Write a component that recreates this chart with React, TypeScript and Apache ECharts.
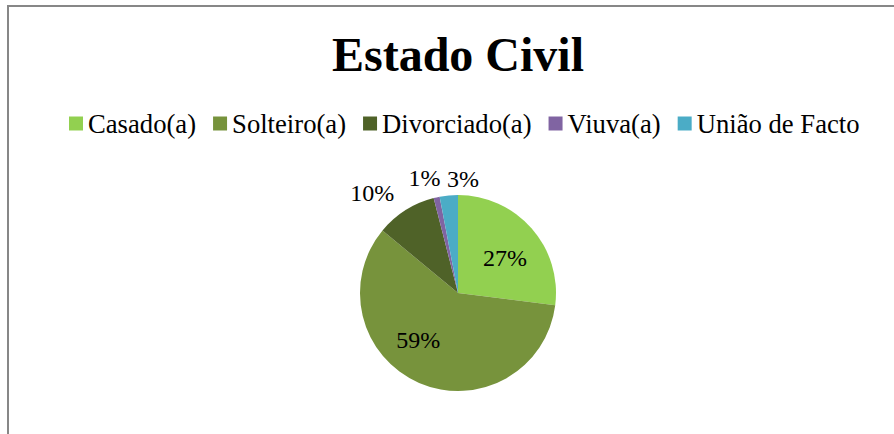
import React, { useEffect, useRef } from "react";
import * as echarts from "echarts";

const titleText = "Estado Civil";
const categories = ["Casado(a)", "Solteiro(a)", "Divorciado(a)", "Viuva(a)", "União de Facto"];
const values = [27, 59, 10, 1, 3];
const colors = ["#92D050", "#77933C", "#4F6228", "#8064A2", "#4BACC6"];

const FONT = "Liberation Serif, Times New Roman, serif";

export default function App() {
  const ref = useRef<HTMLDivElement>(null);
  useEffect(() => {
    if (!ref.current) return;
    const chart = echarts.init(ref.current, undefined, { renderer: "svg" });
    const insideSet = [0, 1];
    const nudges: Record<number, [number, number]> = {
      0: [8, -1],
      1: [-19, -1],
      2: [-1, -1],
      3: [8, -1],
      4: [32, 2],
    };
    chart.setOption({
      animation: false,
      backgroundColor: "#ffffff",
      title: {
        text: titleText,
        left: 453,
        textAlign: "center",
        top: 25,
        textStyle: { fontFamily: FONT, fontSize: 48, fontWeight: "bold", color: "#000" },
      },
      legend: {
        data: categories,
        left: 64,
        top: 105,
        icon: "rect",
        itemWidth: 14,
        itemHeight: 14,
        itemGap: 17,
        textStyle: { fontFamily: FONT, fontSize: 26.67, color: "#000" },
      },
      graphic: [
        {
          type: "rect",
          shape: { x: 8, y: 6, width: 1000, height: 1000 },
          style: { fill: "none", stroke: "#878787", lineWidth: 2 },
          silent: true,
        },
      ],
      series: [
        {
          type: "pie",
          center: [458, 293],
          radius: 98,
          startAngle: 90,
          clockwise: true,
          avoidLabelOverlap: false,
          percentPrecision: 0,
          labelLine: { show: false, length: 19, length2: 0 },
          label: {
            show: true,
            formatter: "{d}%",
            fontFamily: FONT,
            fontSize: 24,
            color: "#000",
            distanceToLabelLine: 0,
          },
          labelLayout: (p: any) => {
            const n = nudges[p.dataIndex] || [0, 0];
            return { dx: n[0], dy: n[1] };
          },
          data: categories.map((name, i) => ({
            name,
            value: values[i],
            itemStyle: { color: colors[i] },
            label: { position: insideSet.includes(i) ? "inside" : "outside" },
          })),
        },
      ],
    });
    return () => chart.dispose();
  }, []);
  return (
    <div
      ref={ref}
      style={{ position: "absolute", left: 0, top: 0, width: 894, height: 434 }}
    />
  );
}
